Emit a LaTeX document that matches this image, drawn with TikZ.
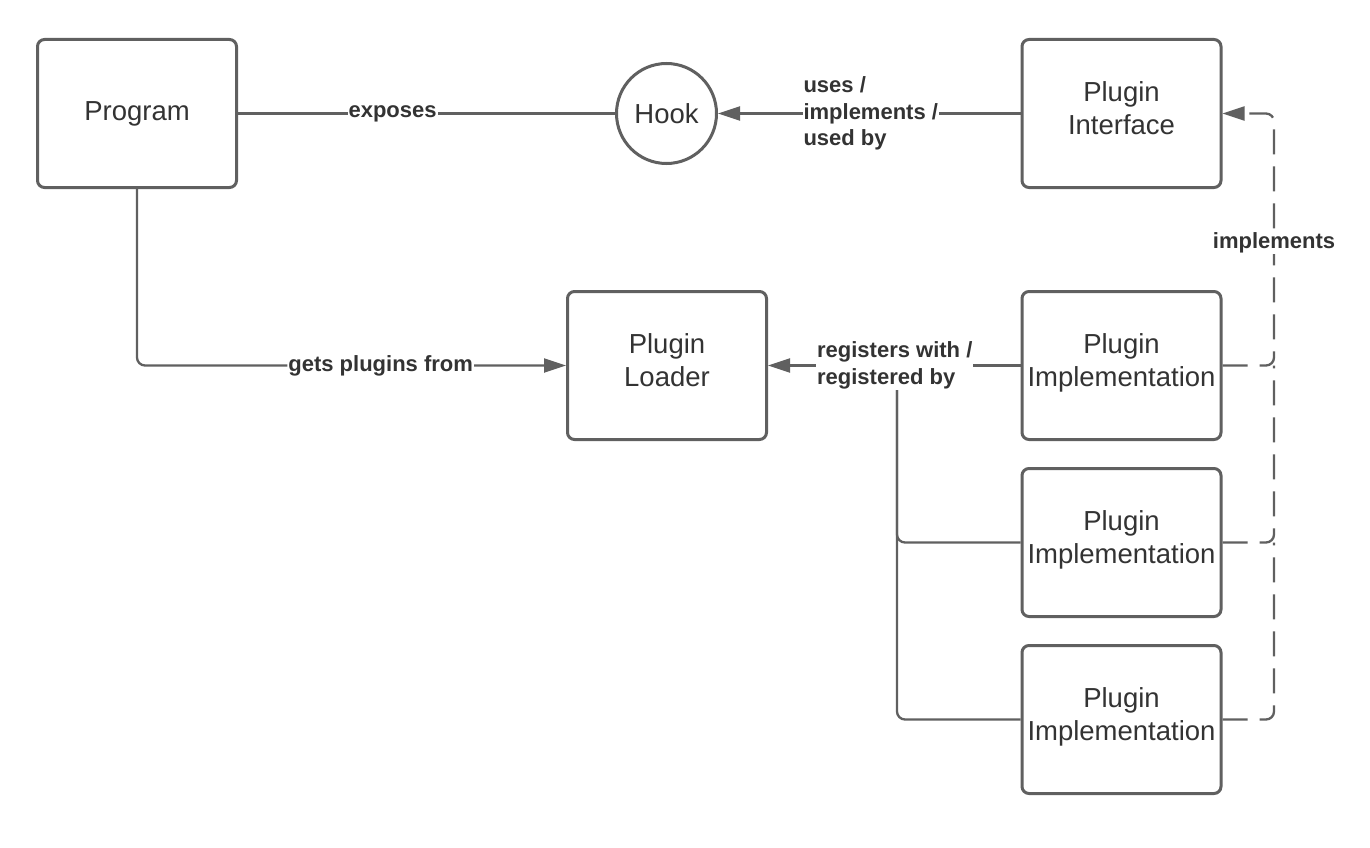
\documentclass[tikz,border=0pt]{standalone}
\usepackage{fontspec}
\setmainfont{Liberation Sans}
\usetikzlibrary{arrows.meta}
\definecolor{linec}{RGB}{96,96,96}
\definecolor{txt}{RGB}{51,51,51}
\begin{document}
\begin{tikzpicture}[x=1pt,y=-1pt,
  box/.style={draw=linec, line width=3pt, rounded corners=7pt, minimum width=199pt, minimum height=148pt,
    align=center, font=\fontsize{27.5}{33.5}\selectfont, text=txt, inner sep=0pt, text depth=11pt},
  hookstyle/.style={circle, draw=linec, line width=3pt, minimum size=100pt, inner sep=0pt,
    font=\fontsize{27.5}{33.5}\selectfont, text=txt},
  lbl/.style={fill=white, font=\bfseries\fontsize{22}{26.5}\selectfont, text=txt, inner sep=1pt, align=left},
  conn/.style={draw=linec, line width=2.3pt},
  arr/.style={-{Triangle[length=22pt,width=14pt]}, linec},
  dashline/.style={dash pattern=on 25pt off 12pt}
]
\useasboundingbox (0,0) rectangle (1370,848);
\fill[white] (0,0) rectangle (1370,848);

\node[box, text depth=] (prog) at (137,113.5) {Program};
\node[hookstyle] (hook) at (666.5,113.5) {Hook};
\node[box] (iface) at (1121.5,113.5) {Plugin\\Interface};
\node[box] (loader) at (667,365.5) {Plugin\\Loader};
\node[box] (imp1) at (1121.5,365.5) {Plugin\\Implementation};
\node[box] (imp2) at (1121.5,542.5) {Plugin\\Implementation};
\node[box] (imp3) at (1121.5,719.5) {Plugin\\Implementation};

\coordinate (junc) at (897,365.5);
\coordinate (rail) at (1274,113.5);
\coordinate (rail1) at (1274,365.5);
\coordinate (rail2) at (1274,542.5);

% exposes
\draw[conn] (prog) -- node[lbl, pos=0.41] (lexp) {exposes} (hook);
% uses / implements / used by
\draw[conn, arr] (iface) -- node[lbl, pos=0.495] (luse) {uses /\\implements /\\used by} (hook);
% gets plugins from
\draw[conn, arr, rounded corners=8pt] (prog.south) |- node[lbl, pos=0.784] (lget) {gets plugins from} (loader.west);
% branches from other implementations
\draw[conn, rounded corners=8pt] (imp2.west) -| (junc);
\draw[conn, rounded corners=8pt] (imp3.west) -| (junc);
% registers with
\draw[conn, arr] (imp1) -- node[lbl, pos=0.498] (lreg) {registers with /\\registered by} (loader);

% implements (dashed)
\draw[conn, dashline, rounded corners=8pt] (imp3.east) -| (rail2);
\draw[conn, dashline, rounded corners=8pt] (imp2.east) -| (rail1);
\draw[conn, dashline, arr, rounded corners=8pt] (imp1.east) -| (rail) -- (iface.east);
\node[lbl] (limp) at (1274,242.5) {implements};
\end{tikzpicture}
\end{document}
